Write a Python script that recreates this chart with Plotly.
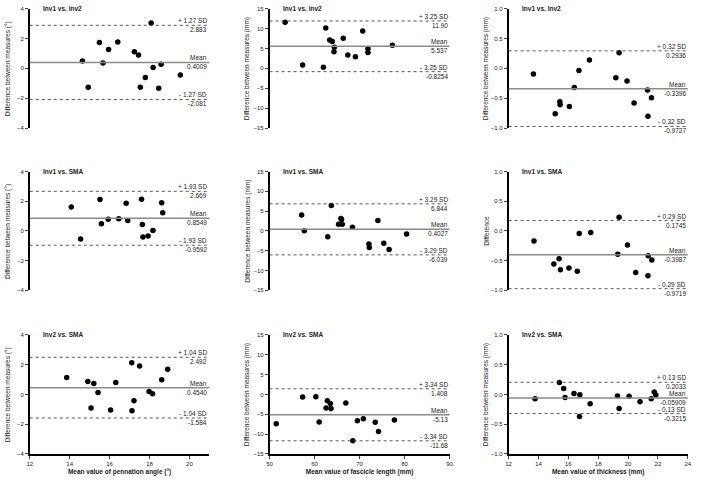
import plotly.graph_objects as go

# ---- pennation angle (deg) ----
pa_inv1_inv2_x = [14.64, 14.93, 15.49, 15.67, 15.95, 16.41, 17.24, 17.45, 17.54, 17.79, 18.08, 18.18, 18.46, 18.58, 19.54]
pa_inv1_inv2_y = [0.50, -1.27, 1.73, 0.36, 1.27, 1.77, 1.11, 0.89, -1.27, -0.61, 3.03, 0.06, -1.33, 0.28, -0.45]
pa_inv1_sma_x = [14.08, 14.55, 15.52, 15.59, 15.93, 16.46, 16.83, 16.91, 17.60, 17.64, 17.67, 17.93, 18.17, 18.61, 18.66]
pa_inv1_sma_y = [1.61, -0.54, 2.12, 0.48, 0.79, 0.83, 1.87, 0.70, 2.14, 0.43, -0.41, -0.34, 0.03, 1.90, 1.23]
pa_inv2_sma_x = [13.85, 14.91, 15.07, 15.21, 15.42, 16.05, 16.31, 17.11, 17.12, 17.22, 17.50, 17.98, 18.15, 18.61, 18.91]
pa_inv2_sma_y = [1.13, 0.86, -0.91, 0.73, 0.13, -1.04, 0.80, 2.12, -1.10, -0.42, 1.90, 0.20, 0.04, 0.99, 1.68]

# ---- fascicle length (mm) ----
fl_inv1_inv2_x = [53.45, 57.34, 61.96, 62.48, 63.36, 63.94, 64.39, 64.31, 66.37, 67.39, 69.08, 70.70, 71.87, 71.87, 77.30]
fl_inv1_inv2_y = [11.61, 0.87, 0.29, 10.12, 7.15, 6.74, 5.33, 4.17, 7.56, 3.35, 2.93, 9.38, 4.92, 4.01, 5.83]
fl_inv1_sma_x = [57.12, 57.71, 62.92, 63.72, 65.34, 65.85, 66.00, 66.15, 68.42, 72.09, 72.17, 74.07, 75.39, 76.57, 80.46]
fl_inv1_sma_y = [4.03, 0.04, -1.45, 6.44, 1.70, 3.12, 2.87, 1.70, 0.96, -3.28, -4.20, 2.62, -3.12, -4.70, -0.79]
fl_inv2_sma_x = [51.47, 57.34, 60.28, 61.01, 62.55, 62.84, 63.50, 63.65, 66.95, 68.51, 69.52, 70.84, 73.49, 74.22, 77.74]
fl_inv2_sma_y = [-7.37, -0.66, -0.58, -6.96, -3.40, -1.57, -2.32, -3.56, -2.15, -11.68, -6.63, -6.13, -7.04, -9.36, -6.46]

# ---- thickness (mm) ----
th_inv1_inv2_x = [13.66, 15.12, 15.43, 15.45, 16.07, 16.40, 16.71, 17.41, 19.18, 19.40, 19.93, 20.40, 21.30, 21.33, 21.57]
th_inv1_inv2_y = [-0.095, -0.76, -0.56, -0.61, -0.64, -0.32, -0.034, 0.14, -0.156, 0.26, -0.21, -0.58, -0.36, -0.80, -0.49]
th_inv1_sma_x = [13.70, 15.03, 15.38, 15.47, 16.04, 16.60, 16.73, 17.50, 19.31, 19.40, 19.96, 20.51, 21.35, 21.33, 21.59]
th_inv1_sma_y = [-0.17, -0.557, -0.468, -0.651, -0.623, -0.679, -0.042, -0.025, -0.391, 0.23, -0.235, -0.70, -0.418, -0.756, -0.49]
th_inv2_sma_x = [13.77, 15.40, 15.69, 15.78, 16.38, 16.77, 16.75, 17.46, 19.29, 19.40, 20.07, 20.80, 21.55, 21.75, 21.86]
th_inv2_sma_y = [-0.072, 0.199, 0.099, -0.050, 0.017, -0.006, -0.37, -0.155, -0.028, -0.238, -0.033, -0.122, -0.072, 0.039, -0.011]

# limits of agreement: upper, mean, lower (as printed)
loa_values = [
    ["2.883", "0.4009", "-2.081"], ["11.90", "5.537", "-0.8254"], ["0.2936", "-0.3396", "-0.9727"],
    ["2.669", "0.8549", "-0.9592"], ["6.844", "0.4027", "-6.039"], ["0.1745", "-0.3987", "-0.9719"],
    ["2.492", "0.4540", "-1.584"], ["1.408", "-5.13", "-11.68"], ["0.2033", "-0.05909", "-0.3215"],
]
sd_labels = ["1.27", "3.25", "0.32", "1.93", "3.29", "0.29", "1.04", "3.34", "0.13"]
panel_titles = ["Inv1 vs. Inv2"] * 3 + ["Inv1 vs. SMA"] * 3 + ["Inv2 vs. SMA"] * 3
y_titles = ["Difference between measures (°)", "Difference between measures (mm)", "Difference between measures (mm)",
            "Difference between measures (°)", "Difference between measures (mm)", "Difference",
            "Difference between measures (°)", "Difference between measures (mm)", "Difference between measures (mm)"]
x_titles = ["Mean value of pennation angle (°)", "Mean value of fascicle length (mm)", "Mean value of thickness (mm)"]

points = [
    (pa_inv1_inv2_x, pa_inv1_inv2_y), (fl_inv1_inv2_x, fl_inv1_inv2_y), (th_inv1_inv2_x, th_inv1_inv2_y),
    (pa_inv1_sma_x, pa_inv1_sma_y), (fl_inv1_sma_x, fl_inv1_sma_y), (th_inv1_sma_x, th_inv1_sma_y),
    (pa_inv2_sma_x, pa_inv2_sma_y), (fl_inv2_sma_x, fl_inv2_sma_y), (th_inv2_sma_x, th_inv2_sma_y),
]

W, H = 702, 480
col_px = [(27, 208.5), (269.3, 451), (510.7, 691.7)]
row_px = [(5.7, 126.7), (170.7, 291), (336, 456.7)]
x_ranges = [[12, 21], [50, 90], [12, 24]]
x_ticks = [[12, 14, 16, 18, 20], [50, 60, 70, 80, 90], [12, 14, 16, 18, 20, 22, 24]]
y_ranges = [[-4, 4], [-15, 15], [-1, 1]]
y_ticks = [[-4, -2, 0, 2, 4], [-15, -10, -5, 0, 5, 10, 15], [-1, -0.5, 0, 0.5, 1]]
y_fmt = ["d", "d", ".1f"]

FONT = "Arial, Liberation Sans, sans-serif"
fig = go.Figure()
layout = {}
annotations = []

for i, (xs, ys) in enumerate(points):
    r, c = divmod(i, 3)
    n = i + 1
    sx = "" if n == 1 else str(n)
    xa, ya = "x" + sx, "y" + sx
    fig.add_trace(go.Scatter(x=xs, y=ys, mode="markers", xaxis=xa, yaxis=ya,
                             marker=dict(color="black", size=5.5), showlegend=False, hoverinfo="skip"))

    xd = [col_px[c][0] / W, col_px[c][1] / W]
    yd = [1 - row_px[r][1] / H, 1 - row_px[r][0] / H]
    bottom = r == 2
    layout["xaxis" + sx] = dict(domain=xd, range=x_ranges[c], anchor=ya, visible=bottom,
                                tickvals=x_ticks[c], ticks="outside", ticklen=3, tickwidth=1.2,
                                showline=True, linecolor="black", linewidth=1.5, showgrid=False,
                                zeroline=False, tickfont=dict(size=6, family=FONT, color="#222"),
                                title=dict(text="<b>" + x_titles[c] + "</b>" if bottom else "",
                                           font=dict(size=6.5, family=FONT, color="#222"), standoff=4))
    layout["yaxis" + sx] = dict(domain=yd, range=y_ranges[c], anchor=xa, tickvals=y_ticks[c],
                                tickformat=y_fmt[c], ticks="outside", ticklen=3, tickwidth=1.2,
                                showline=True, linecolor="black", linewidth=1.5, showgrid=False,
                                zeroline=False, tickfont=dict(size=6, family=FONT, color="#222"))

    up, mean, low = loa_values[i]
    for val, is_mean in ((up, False), (mean, True), (low, False)):
        fig.add_shape(type="line", xref=xa + " domain", yref=ya, x0=0, x1=1, y0=float(val), y1=float(val),
                      line=dict(color="#8a8a8a" if is_mean else "#444", width=1.5 if is_mean else 0.9,
                                dash="solid" if is_mean else "dot"))
    tops = ["+ " + sd_labels[i] + " SD", "Mean", "- " + sd_labels[i] + " SD"]
    for lbl, val in zip(tops, (up, mean, low)):
        annotations.append(dict(text=lbl, xref=xa + " domain", yref=ya, x=1, y=float(val), xanchor="right",
                                yanchor="bottom", showarrow=False, font=dict(size=6.5, family=FONT, color="#222"),
                                yshift=-1))
        annotations.append(dict(text=val, xref=xa + " domain", yref=ya, x=1, y=float(val), xanchor="right",
                                yanchor="top", showarrow=False, font=dict(size=6.5, family=FONT, color="#222"),
                                yshift=1))
    annotations.append(dict(text="<b>" + panel_titles[i] + "</b>", xref=xa + " domain", yref=ya + " domain",
                            x=0, y=1, xanchor="left", yanchor="middle", xshift=11, showarrow=False,
                            font=dict(size=6.5, family=FONT, color="#222")))
    annotations.append(dict(text=y_titles[i], xref="paper", yref=ya + " domain", x=(col_px[c][0] - 22) / W,
                            y=0.5, xanchor="center", yanchor="middle", textangle=-90, showarrow=False,
                            font=dict(size=6.5, family=FONT, color="#222")))

fig.update_layout(**layout)
fig.update_layout(width=W, height=H, margin=dict(l=0, r=0, t=0, b=0), plot_bgcolor="white",
                  paper_bgcolor="white", annotations=annotations, font=dict(family=FONT))
# drop the browser's default 8px body margin so the 702x480 figure fills the window
fig.write_html("out.html", config={"displayModeBar": False},
               post_script="document.body.style.margin = '0';")
